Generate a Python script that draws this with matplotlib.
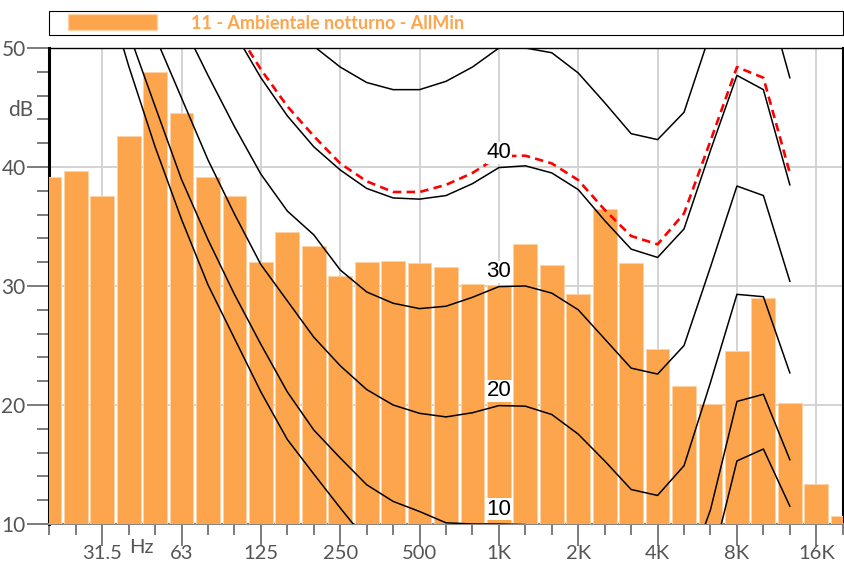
import numpy as np
import matplotlib.pyplot as plt
from matplotlib.patches import Patch
from matplotlib.legend_handler import HandlerPatch
from matplotlib.transforms import blended_transform_factory

nan = np.nan

# 1/3 octave bands, 20 Hz .. 20 kHz
bands = ['20', '25', '31.5', '40', '50', '63', '80', '100', '125', '160', '200', '250',
         '315', '400', '500', '630', '800', '1K', '1.25K', '1.6K', '2K', '2.5K', '3.15K',
         '4K', '5K', '6.3K', '8K', '10K', '12.5K', '16K', '20K']

# measured spectrum (dB)
levels = [39.2, 39.7, 37.6, 42.6, 48.0, 44.5, 39.2, 37.6, 32.0, 34.5, 33.4, 30.8,
          32.0, 32.1, 31.95, 31.6, 30.2, 30.1, 33.55, 31.8, 29.35, 36.45, 31.95,
          24.7, 21.6, 20.05, 24.55, 29.0, 20.2, 13.4, 10.67]

# equal loudness curves
threshold = [nan, nan, 56.0, 48.5, 41.7, 35.6, 30.1, 25.6, 21.1, 17.1, 14.2, 11.35,
             8.6, 6.8, 5.5, 4.5, 4.0, 4.0, 3.8, 3.0, 1.5, -1.0, -3.0, -3.5, -1.0, 6.3,
             15.3, 16.3, 11.5, nan, nan]
phon10 = [nan, nan, nan, 51.3, 45.1, 38.95, 33.9, 29.3, 25.1, 21.1, 17.9, 15.55,
          13.3, 11.9, 11.05, 10.1, 10.0, 10.0, 9.95, 9.0, 7.5, 5.2, 2.8, 2.3, 5.0, 11.2,
          20.3, 20.9, 15.4, nan, nan]
phon20 = [nan, nan, nan, nan, 51.0, 45.8, 40.6, 36.05, 31.8, 28.75, 25.7, 23.3,
          21.3, 20.0, 19.3, 19.0, 19.35, 19.95, 19.9, 19.2, 17.55, 15.3, 12.9, 12.4,
          14.9, 21.9, 29.3, 29.1, 22.7, nan, nan]
phon30 = [nan, nan, nan, nan, nan, 52.2, 47.7, 43.4, 39.4, 36.3, 34.3, 31.35,
          29.5, 28.55, 28.1, 28.3, 29.05, 29.95, 30.0, 29.4, 28.0, 25.55, 23.1, 22.6,
          25.0, 31.6, 38.4, 37.6, 30.4, nan, nan]
phon40 = [nan, nan, nan, nan, nan, nan, nan, 51.3, 47.5, 44.3, 41.7, 39.75,
          38.2, 37.4, 37.3, 37.6, 38.6, 39.95, 40.1, 39.5, 38.1, 35.5, 33.1, 32.4,
          34.8, 41.4, 47.7, 46.5, 38.5, nan, nan]
phon50 = [nan, nan, nan, nan, nan, nan, nan, nan, nan, 53.0, 50.15, 48.4,
          47.1, 46.5, 46.5, 47.2, 48.4, 50.0, 50.0, 49.6, 47.9, 45.4, 42.8, 42.3,
          44.6, 51.3, 56.5, 55.5, 47.5, nan, nan]
# loudness contour fitted to the spectrum (red dashed)
fitted = [nan, nan, nan, nan, nan, nan, nan, 51.75, 48.2, 45.1, 42.6, 40.3,
          38.8, 37.9, 37.9, 38.5, 39.5, 40.9, 40.95, 40.3, 38.9, 36.4, 34.2, 33.5,
          36.1, 42.2, 48.4, 47.5, 39.5, nan, nan]

major_idx = [2, 5, 8, 11, 14, 17, 20, 23, 26, 29]
major_labels = ['31.5', '63', '125', '250', '500', '1K', '2K', '4K', '8K', '16K']
series_name = '11 - Ambientale notturno - AllMin'

orange = '#FCA54D'
grey_txt = '#555555'

fig, ax = plt.subplots(figsize=(8.44, 5.66), dpi=100)
fig.subplots_adjust(left=0.0584, right=0.9985, bottom=0.0742, top=0.9152)

x = np.arange(len(bands))
ax.bar(x, levels, width=0.9, color=orange, edgecolor='#FDD3A6', linewidth=0.7, zorder=3)

for curve in [threshold, phon10, phon20, phon30, phon40, phon50]:
    ax.plot(x, curve, color='black', lw=1.1, zorder=4)
ax.plot(x, fitted, color='red', lw=1.9, ls=(0, (3.2, 2)), zorder=5)

# phon labels at 1 kHz
for lvl, curve in zip([10, 20, 30, 40], [phon10, phon20, phon30, phon40]):
    ax.text(17, curve[17] + 1.25, str(lvl), ha='center', va='center', fontsize=16,
            family='Liberation Sans', zorder=6,
            bbox=dict(facecolor='white', edgecolor='none', pad=0.5))

ax.set_xlim(0, 30)
ax.set_ylim(10, 50)
ax.set_xticks(major_idx)
ax.set_xticklabels(major_labels)
ax.set_xticks(x, minor=True)
ax.set_yticks([10, 20, 30, 40, 50])
ax.set_yticks(np.arange(10, 51, 2), minor=True)

ax.tick_params(axis='x', which='major', length=16, width=1.2, color='#666666', pad=-1,
               labelsize=14.5, labelcolor=grey_txt)
ax.tick_params(axis='x', which='minor', length=8, width=1.2, color='#666666')
ax.tick_params(axis='y', which='major', length=16, width=1.2, color='#666666', pad=1,
               labelsize=15, labelcolor=grey_txt)
ax.tick_params(axis='y', which='minor', length=9, width=1.2, color='#666666')
for lab in ax.get_xticklabels() + ax.get_yticklabels():
    lab.set_family('Lato')

ax.grid(True, which='major', color='#D0D0D0', lw=1.3)
ax.set_axisbelow(True)

ax.spines['left'].set_color('black')
ax.spines['left'].set_linewidth(2.2)
ax.spines['right'].set_linewidth(1.5)
ax.spines['top'].set_linewidth(1.0)
ax.spines['bottom'].set_color('#888888')
ax.spines['bottom'].set_linewidth(1.5)

trans = blended_transform_factory(ax.transData, ax.transAxes)
ax.text(3.02, -(16 - 1.4) / 476, 'Hz', transform=trans, ha='left', va='top', fontsize=14.5,
        color=grey_txt, family='Lato')
trans_y = blended_transform_factory(ax.transAxes, ax.transData)
ax.text(-0.02, 44.8, 'dB', transform=trans_y, ha='right', va='center', fontsize=15,
        color=grey_txt, family='Lato')

leg = ax.legend(handles=[Patch(facecolor=orange, edgecolor='#FDD3A6')], labels=[series_name],
                handler_map={Patch: HandlerPatch(xpad=0.86)},
                loc='lower left', bbox_to_anchor=(0, 1.027, 1, 0.057), mode='expand',
                borderaxespad=0, fancybox=False, framealpha=1, edgecolor='black',
                handlelength=5.79, handleheight=1.0, handletextpad=1.85, borderpad=0.2,
                prop={'family': 'Lato', 'weight': 'bold', 'size': 13}, labelcolor=orange)
leg.get_frame().set_linewidth(0.8)

plt.savefig('out.png', dpi=100)
